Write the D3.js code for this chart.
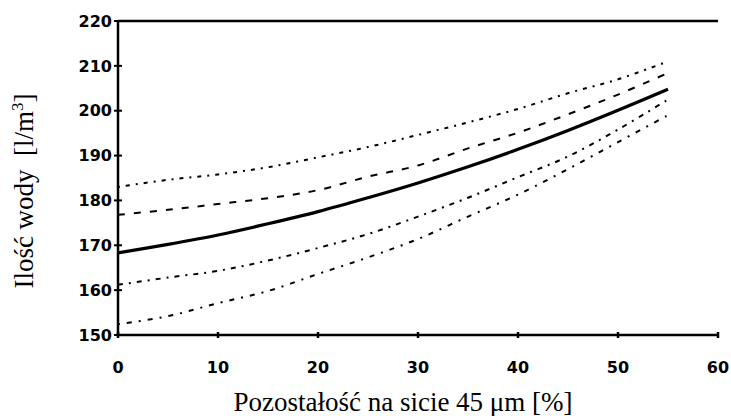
<!DOCTYPE html>
<html>
<head>
<meta charset="utf-8">
<script src="https://cdn.jsdelivr.net/npm/d3@7"></script>
<style>
  body { margin: 0; background: #fff; }
  .tick-label { font-family: "DejaVu Sans", sans-serif; font-weight: bold; font-size: 16px; fill: #000; }
  .axis-title { font-family: "Liberation Serif", "Times New Roman", serif; font-size: 27px; fill: #000; white-space: pre; }
</style>
</head>
<body>
<svg id="chart"></svg>
<script>
// residue on 45 um sieve [%]
const residue = [0, 5, 10, 15, 20, 25, 30, 35, 40, 45, 50, 55];

// water demand [l/m3] for each curve, top to bottom
const curveA = [183.0, 184.6, 185.8, 187.4, 189.6, 191.9, 194.6, 197.4, 200.4, 203.9, 207.0, 211.0];
const curveB = [176.8, 177.9, 179.2, 180.5, 182.3, 185.3, 187.8, 191.6, 195.1, 199.2, 203.6, 208.4];
const curveMain = [168.3, 170.2, 172.3, 174.8, 177.5, 180.6, 183.9, 187.5, 191.4, 195.6, 200.1, 204.8];
const curveD = [161.2, 162.8, 164.3, 166.6, 169.4, 172.5, 176.4, 180.6, 185.2, 189.8, 195.8, 202.5];
const curveE = [152.4, 154.2, 157.1, 159.8, 163.6, 167.3, 171.4, 176.4, 181.3, 187.0, 193.0, 199.0];

const xTicks = [0, 10, 20, 30, 40, 50, 60];
const yTicks = [150, 160, 170, 180, 190, 200, 210, 220];

const width = 731, height = 416;
const margin = {top: 21, right: 13, bottom: 81, left: 118};
const innerW = width - margin.left - margin.right;
const innerH = height - margin.top - margin.bottom;

const svg = d3.select('#chart')
    .attr('width', width)
    .attr('height', height);

const chart = svg.append('g')
    .attr('transform', `translate(${margin.left},${margin.top})`);

const xScale = d3.scaleLinear().domain([0, 60]).range([0, innerW]);
const yScale = d3.scaleLinear().domain([150, 220]).range([innerH, 0]);

// frame: left, bottom and top lines
chart.append('line')
    .attr('x1', 0).attr('x2', 0).attr('y1', 0).attr('y2', innerH)
    .attr('stroke', '#000').attr('stroke-width', 2.5);
chart.append('line')
    .attr('x1', 0).attr('x2', innerW).attr('y1', innerH).attr('y2', innerH)
    .attr('stroke', '#000').attr('stroke-width', 2.5);
chart.append('line')
    .attr('x1', 0).attr('x2', innerW).attr('y1', 0).attr('y2', 0)
    .attr('stroke', '#000').attr('stroke-width', 2.5);

// y ticks cross the axis
chart.selectAll('.ytick')
    .data(yTicks)
    .enter()
    .append('line')
    .attr('class', 'ytick')
    .attr('x1', -4).attr('x2', 4)
    .attr('y1', d => yScale(d)).attr('y2', d => yScale(d))
    .attr('stroke', '#000').attr('stroke-width', 2);

chart.selectAll('.ylabel')
    .data(yTicks)
    .enter()
    .append('text')
    .attr('class', 'tick-label')
    .attr('x', -6)
    .attr('y', d => yScale(d))
    .attr('dy', '0.36em')
    .attr('text-anchor', 'end')
    .text(d => d);

chart.selectAll('.xtick')
    .data(xTicks)
    .enter()
    .append('line')
    .attr('class', 'xtick')
    .attr('x1', d => xScale(d)).attr('x2', d => xScale(d))
    .attr('y1', innerH - 3).attr('y2', innerH + 3)
    .attr('stroke', '#000').attr('stroke-width', 2.5);

chart.selectAll('.xlabel')
    .data(xTicks)
    .enter()
    .append('text')
    .attr('class', 'tick-label')
    .attr('x', d => xScale(d))
    .attr('y', innerH + 38)
    .attr('text-anchor', 'middle')
    .text(d => d);

// curves
const line = d3.line()
    .x((d, i) => xScale(residue[i]))
    .y(d => yScale(d))
    .curve(d3.curveCatmullRom);

const series = [
  {values: curveA, dash: '2,6,4,6', w: 2},
  {values: curveB, dash: '7,9', w: 2},
  {values: curveMain, dash: null, w: 3.2},
  {values: curveD, dash: '5,6,2,6', w: 2},
  {values: curveE, dash: '2,7,5,7', w: 2}
];

chart.selectAll('.curve')
    .data(series)
    .enter()
    .append('path')
    .attr('class', 'curve')
    .attr('d', d => line(d.values))
    .attr('fill', 'none')
    .attr('stroke', '#000')
    .attr('stroke-width', d => d.w)
    .attr('stroke-dasharray', d => d.dash);

// axis titles
svg.append('text')
    .attr('class', 'axis-title')
    .attr('x', 403)
    .attr('y', 411)
    .attr('text-anchor', 'middle')
    .text('Pozostałość na sicie 45 μm [%]');

const yTitle = svg.append('text')
    .attr('class', 'axis-title')
    .attr('transform', 'translate(33,191) rotate(-90)')
    .attr('text-anchor', 'middle');
yTitle.append('tspan').text('Ilość wody  [l/m');
yTitle.append('tspan').attr('dy', -10).attr('font-size', 17).text('3');
yTitle.append('tspan').attr('dy', 10).text(']');
</script>
</body>
</html>
